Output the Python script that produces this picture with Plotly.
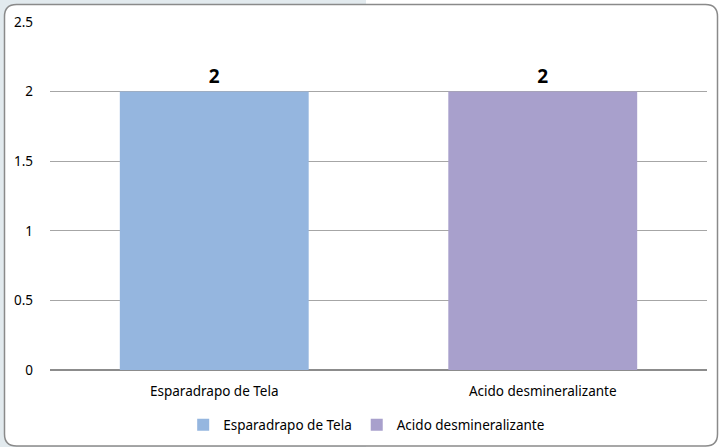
import plotly.graph_objects as go

W, H = 719, 447

categories = ["Esparadrapo de Tela", "Acido desmineralizante"]
series_names = ["Esparadrapo de Tela", "Acido desmineralizante"]
values = [2, 2]
colors = ["#95b6df", "#a8a0cc"]
y_ticks = [0, 0.5, 1, 1.5, 2, 2.5]

FONT = "Noto Sans, Open Sans, sans-serif"


def px_x(p):
    return p / W


def px_y(p):
    return 1 - p / H


fig = go.Figure()
for name, cat, val, col in zip(series_names, categories, values, colors):
    fig.add_trace(go.Bar(
        name=name,
        x=[cat],
        y=[val],
        marker=dict(color=col, line=dict(width=0)),
        width=0.575,
        text=[val],
        texttemplate="<b>%{text}</b>",
        textposition="outside",
        textfont=dict(size=19, color="#000000", family=FONT),
        cliponaxis=False,
        offsetgroup="g",
    ))

# rounded chart frame
x0, y0, x1, y1, r = 4.5, 4.5, 717.5, 446, 12
path = (
    f"M {px_x(x0 + r)},{px_y(y0)} L {px_x(x1 - r)},{px_y(y0)} "
    f"Q {px_x(x1)},{px_y(y0)} {px_x(x1)},{px_y(y0 + r)} "
    f"L {px_x(x1)},{px_y(y1 - r)} Q {px_x(x1)},{px_y(y1)} {px_x(x1 - r)},{px_y(y1)} "
    f"L {px_x(x0 + r)},{px_y(y1)} Q {px_x(x0)},{px_y(y1)} {px_x(x0)},{px_y(y1 - r)} "
    f"L {px_x(x0)},{px_y(y0 + r)} Q {px_x(x0)},{px_y(y0)} {px_x(x0 + r)},{px_y(y0)} Z"
)

fig.update_layout(
    width=W,
    height=H,
    margin=dict(l=0, r=0, t=0, b=0, autoexpand=False),
    paper_bgcolor="#ffffff",
    plot_bgcolor="rgba(0,0,0,0)",
    barmode="group",
    font=dict(family=FONT, size=13.5, color="#000000"),
    shapes=[
        dict(type="rect", xref="paper", yref="paper", x0=0, x1=px_x(366), y0=0, y1=1,
             fillcolor="#e2eaee", line=dict(width=0), layer="below"),
        dict(type="path", xref="paper", yref="paper", path=path,
             fillcolor="#ffffff", line=dict(color="#8a8a8a", width=1.5), layer="below"),
    ],
    xaxis=dict(
        domain=[px_x(50), px_x(707)],
        showgrid=False,
        showline=False,
        ticks="",
        tickfont=dict(size=13.5),
        ticklabelstandoff=11,
        automargin=False,
    ),
    yaxis=dict(
        domain=[px_y(370), px_y(22)],
        range=[0, 2.5],
        tickvals=y_ticks,
        ticktext=[f"{v:g}" for v in y_ticks],
        showgrid=True,
        gridcolor="#a6a6a6",
        gridwidth=1,
        zeroline=True,
        zerolinecolor="#8c8c8c",
        zerolinewidth=1.5,
        showline=False,
        ticks="",
        tickfont=dict(size=13.5),
        ticklabelstandoff=16,
        automargin=False,
    ),
    legend=dict(
        orientation="h",
        x=0.51,
        xanchor="center",
        y=px_y(425),
        yanchor="middle",
        font=dict(size=13.5),
        bgcolor="rgba(0,0,0,0)",
        itemwidth=30,
        traceorder="normal",
    ),
)

fig.write_html("out.html")
